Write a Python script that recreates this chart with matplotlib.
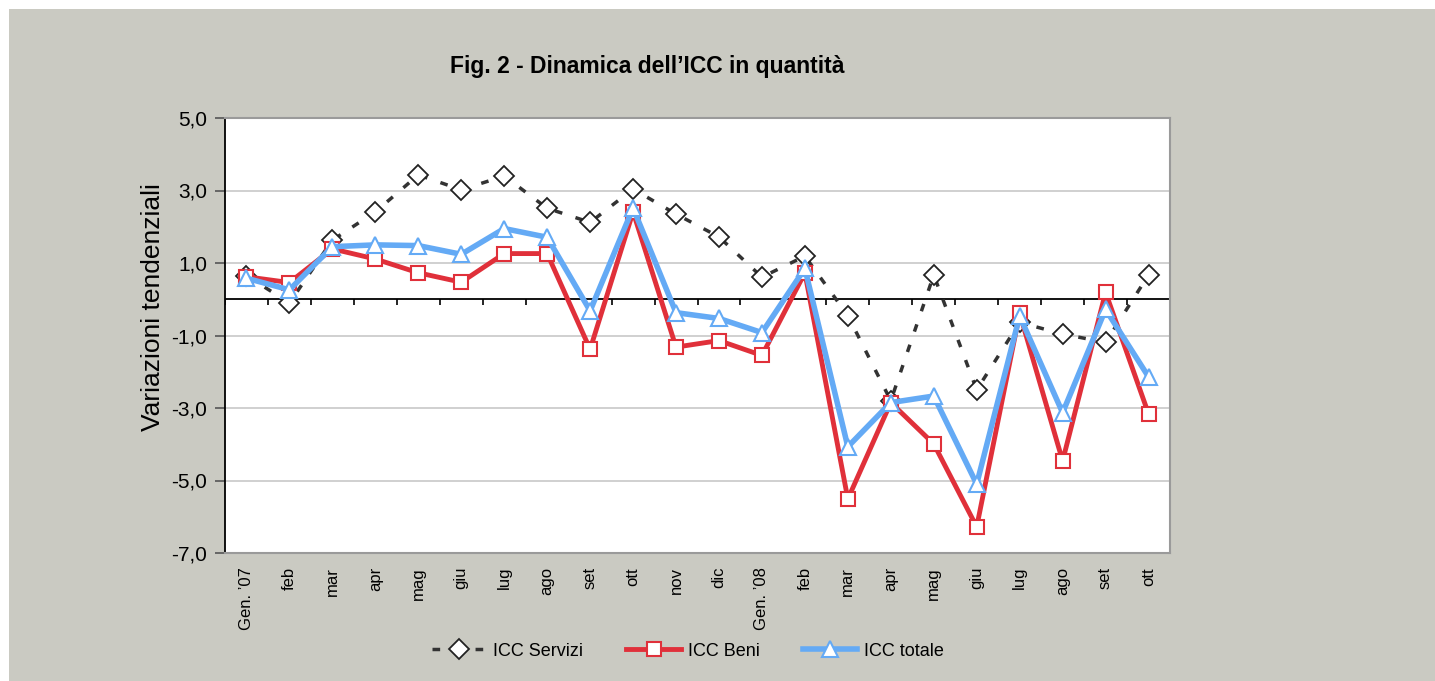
import matplotlib
matplotlib.use("Agg")
import matplotlib.pyplot as plt
from matplotlib.patches import Rectangle
import numpy as np

plt.rcParams['font.family'] = ['Liberation Sans', 'DejaVu Sans']

# data
mesi = ["Gen. \u201907", "feb", "mar", "apr", "mag", "giu", "lug", "ago", "set", "ott",
        "nov", "dic", "Gen. \u201908", "feb", "mar", "apr", "mag", "giu", "lug", "ago",
        "set", "ott"]
servizi = [0.65, -0.1, 1.63, 2.41, 3.43, 3.02, 3.40, 2.51, 2.12, 3.04,
           2.35, 1.72, 0.61, 1.19, -0.45, -2.8, 0.67, -2.5, -0.64, -0.96,
           -1.19, 0.67]
beni = [0.62, 0.46, 1.39, 1.11, 0.73, 0.47, 1.26, 1.26, -1.38, 2.41,
        -1.32, -1.14, -1.55, 0.73, -5.51, -2.85, -3.99, -6.28, -0.39, -4.46,
        0.19, -3.16]
totale = [0.58, 0.26, 1.45, 1.50, 1.48, 1.24, 1.95, 1.71, -0.32, 2.52,
          -0.37, -0.53, -0.92, 0.85, -4.07, -2.85, -2.67, -5.1, -0.46, -3.13,
          -0.28, -2.14]
yticks = [-7, -5, -3, -1, 1, 3, 5]

bg = "#cacac2"
rosso = "#e0303a"
blu = "#64aaf5"

fig = plt.figure(figsize=(14.35, 6.81), dpi=100)
fig.patch.set_facecolor("white")
fig.patches.append(Rectangle((9 / 1435, 0), 1, 1 - 9 / 681, transform=fig.transFigure,
                             facecolor=bg, edgecolor="none", zorder=-10))

ax = fig.add_axes([225 / 1435, 1 - 553 / 681, 945 / 1435, 435 / 681])
ax.set_facecolor("white")
x = np.arange(len(mesi))

ax.plot(x, servizi, color="#333333", lw=2.5, ls=(0, (2.2, 4)), marker="D",
        ms=10, mfc="white", mec="#222222", mew=1.3, label="ICC Servizi", zorder=3)
ax.plot(x, beni, color=rosso, lw=3.5, marker="s", ms=10, mfc="white",
        mec=rosso, mew=1.5, label="ICC Beni", zorder=4)
ax.plot(x, totale, color=blu, lw=4, marker="^", ms=12, mfc="white",
        mec=blu, mew=1.5, label="ICC totale", zorder=5)

ax.set_xlim(-0.5, len(mesi) - 0.5)
ax.set_ylim(-7, 5)
ax.set_yticks(yticks)
ax.set_yticklabels([f"{v:.1f}".replace(".", ",") for v in yticks], fontsize=15)
ax.yaxis.grid(True, color="#c8c8c8", lw=1.2)
ax.set_axisbelow(True)

# zero axis with category dividers
ax.axhline(0, color="black", lw=1.3, zorder=2)
bounds = np.arange(len(mesi) + 1) - 0.5
ax.vlines(bounds, -0.17, 0, color="black", lw=1.2, zorder=2)

ax.set_xticks(x)
ax.set_xticklabels(mesi, rotation=90, fontsize=12)
ax.tick_params(axis="x", length=0, pad=10)
ax.tick_params(axis="y", length=7, width=1.2, color="#555555", pad=6)

for s in ["top", "right", "bottom"]:
    ax.spines[s].set_color("#9a9a9a")
    ax.spines[s].set_linewidth(1.5)
ax.spines["left"].set_color("black")
ax.spines["left"].set_linewidth(1.3)

ax.set_ylabel("Variazioni tendenziali", fontsize=19)
ax.yaxis.set_label_coords(-0.064, 0.566)

fig.text(647 / 1435, 1 - 67 / 681, "Fig. 2 - Dinamica dell\u2019ICC in quantit\u00e0",
         ha="center", va="center", fontsize=16.5, fontweight="bold")

fig.legend(loc="center", bbox_to_anchor=(688 / 1435, 1 - 651 / 681), ncol=3,
           frameon=False, fontsize=13, handlelength=3.0, columnspacing=2.4,
           handletextpad=0.4)

fig.savefig("out.png", dpi=100, facecolor=fig.get_facecolor())
